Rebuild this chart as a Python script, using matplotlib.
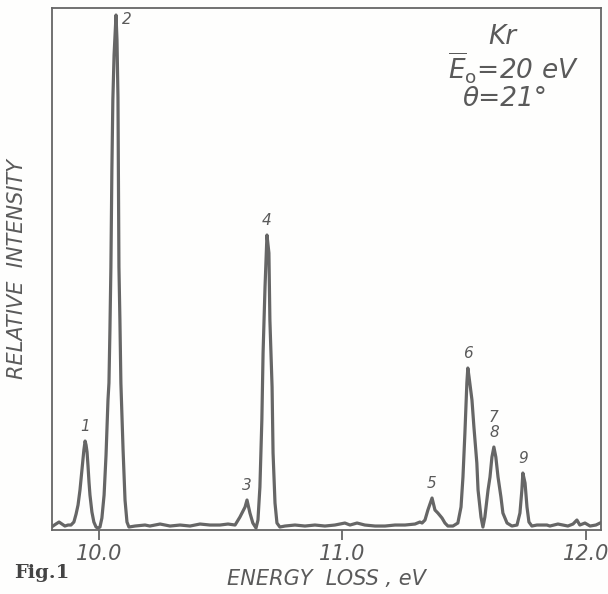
import numpy as np
import matplotlib

matplotlib.use('Agg')

import matplotlib.pyplot as plt

plt.rcParams['font.family'] = "DejaVu Sans"

# spectrum trace (energy loss in eV, intensity in arb. units)
energy = [
    9.811, 9.823, 9.836, 9.848, 9.860, 9.873, 9.885, 9.897, 9.906, 9.914,
    9.922, 9.930, 9.938, 9.943, 9.947, 9.951, 9.955, 9.959, 9.963, 9.971,
    9.979, 9.988, 9.996, 10.004, 10.012, 10.021, 10.029, 10.037, 10.041, 10.045,
    10.049, 10.053, 10.057, 10.062, 10.070, 10.074, 10.078, 10.082, 10.086, 10.090,
    10.099, 10.107, 10.115, 10.123, 10.148, 10.189, 10.209, 10.251, 10.292, 10.333,
    10.374, 10.415, 10.456, 10.497, 10.530, 10.559, 10.579, 10.600, 10.608, 10.620,
    10.632, 10.645, 10.653, 10.661, 10.669, 10.674, 10.682, 10.690, 10.698, 10.702,
    10.711, 10.715, 10.723, 10.731, 10.743, 10.764, 10.805, 10.846, 10.887, 10.928,
    10.969, 11.010, 11.031, 11.060, 11.092, 11.134, 11.175, 11.216, 11.257, 11.298,
    11.318, 11.327, 11.339, 11.351, 11.368, 11.372, 11.380, 11.392, 11.409, 11.421,
    11.433, 11.454, 11.474, 11.487, 11.495, 11.503, 11.511, 11.515, 11.520, 11.532,
    11.540, 11.552, 11.557, 11.569, 11.577, 11.585, 11.598, 11.606, 11.614, 11.622,
    11.630, 11.639, 11.651, 11.659, 11.676, 11.696, 11.717, 11.729, 11.737, 11.741,
    11.750, 11.758, 11.766, 11.778, 11.799, 11.819, 11.840, 11.852, 11.885, 11.906,
    11.926, 11.947, 11.963, 11.975, 11.996, 12.017, 12.041, 12.058,
]
intensity = [
    4, 6, 8, 6, 4, 5, 5, 8, 16, 25,
    40, 60, 80, 89, 85, 78, 64, 48, 35, 18,
    8, 3, 2, 3, 12, 35, 75, 130, 147, 200,
    263, 360, 430, 475, 515, 490, 433, 263, 210, 147,
    80, 30, 8, 3, 4, 5, 4, 6, 4, 5,
    4, 6, 5, 5, 6, 5, 13, 23, 30, 17,
    7, 2, 10, 43, 110, 177, 243, 295, 277, 210,
    143, 77, 27, 7, 3, 4, 5, 4, 5, 4,
    5, 7, 5, 7, 5, 4, 4, 5, 5, 6,
    8, 7, 10, 20, 32, 28, 20, 17, 12, 7,
    4, 4, 7, 23, 53, 97, 147, 162, 153, 130,
    103, 67, 40, 13, 3, 13, 40, 53, 73, 83,
    73, 53, 33, 17, 7, 4, 5, 17, 40, 57,
    47, 23, 8, 4, 5, 5, 5, 4, 6, 5,
    4, 6, 10, 5, 7, 4, 5, 7,
]

# peak markers
peak_labels = ["1", "2", "3", "4", "5", "6", "7\n8", "9"]
peak_e = [9.943, 10.070, 10.608, 10.690, 11.368, 11.515, 11.622, 11.741]
peak_h = [89, 515, 30, 295, 32, 162, 83, 57]

xticks = [10.0, 11.0, 12.0]
xtick_labels = ["10.0", "11.0", "12.0"]

ink = "#666666"
txt = "#5a5a5a"

fig = plt.figure(figsize=(6.08, 5.94), dpi=100, facecolor="#fefefd")
ax = fig.add_axes([0.0855, 0.1077, 0.9030, 0.8788])
ax.set_facecolor("#fefefd")

ax.plot(energy, intensity, color=ink, lw=2.3, solid_joinstyle="round")

ax.set_xlim(9.807, 12.062)
ax.set_ylim(0, 522)

for lab, e, h in zip(peak_labels, peak_e, peak_h):
    if lab == "2":
        # the top label sits beside the tip, not above it
        ax.annotate(lab, xy=(e, h), xytext=(4, 2), textcoords="offset points",
                    ha="left", va="top", fontsize=11, color=txt, fontstyle="italic")
        continue
    ax.annotate(lab, xy=(e, h), xytext=(0, 5), textcoords="offset points",
                ha="center", va="bottom", fontsize=11, color=txt,
                fontstyle="italic", linespacing=1.0)

ax.set_xticks(xticks)
ax.set_xticklabels(xtick_labels, fontsize=15, fontstyle="italic", color=txt)
ax.set_yticks([])
ax.tick_params(axis="x", direction="out", length=7, width=1.3, color=ink, pad=3)

for s in ax.spines.values():
    s.set_color(ink)
    s.set_linewidth(1.3)

ax.set_xlabel("ENERGY  LOSS , eV", fontsize=15, fontstyle="italic", color=txt, labelpad=4)
ax.set_ylabel("RELATIVE  INTENSITY", fontsize=15, fontstyle="italic", color=txt, labelpad=18)

ax.text(0.82, 0.945, "Kr", transform=ax.transAxes, ha="center", va="center",
        fontsize=19, fontstyle="italic", color=txt)
ax.text(0.84, 0.885, r"$\overline{E}_{\mathrm{o}}$=20 eV", transform=ax.transAxes,
        ha="center", va="center", fontsize=19, fontstyle="italic", color=txt)
ax.text(0.825, 0.825, "θ=21°", transform=ax.transAxes, ha="center", va="center",
        fontsize=19, fontstyle="italic", color=txt)

fig.text(0.068, 0.035, "Fig.1", fontsize=14, fontweight="bold", family="DejaVu Serif",
         color="#444444", ha="center", va="center")

fig.savefig("out.png", dpi=100, facecolor=fig.get_facecolor())
